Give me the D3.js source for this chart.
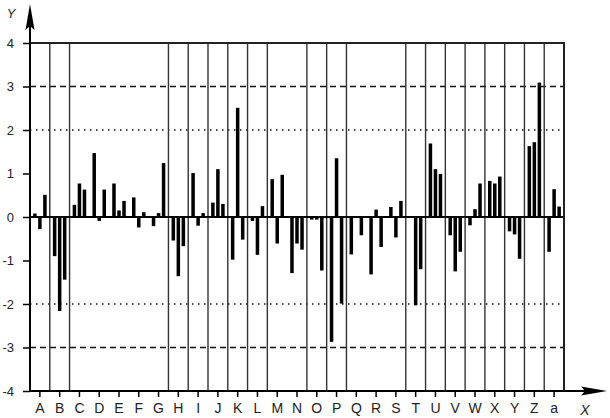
<!DOCTYPE html>
<html>
<head>
<meta charset="utf-8">
<script src="https://d3js.org/d3.v7.min.js"></script>
<style>
	body { margin: 0; background: #fff; }
	text { font-family: "Liberation Sans", Arial, sans-serif; fill: #222; }
</style>
</head>
<body>
<script>

// categories on the x axis
var categories = ["A","B","C","D","E","F","G","H","I","J","K","L","M","N",
	"O","P","Q","R","S","T","U","V","W","X","Y","Z","a"]

// three bars per category (left, middle, right)
var series1 = [0.08,-0.90,0.28,1.47,0.77,0.45,-0.21,-0.54,1.01,0.33,-0.98,-0.09,0.87,-1.29,
	-0.06,-2.87,-0.86,-1.32,0.23,0,1.69,-0.42,-0.19,0.83,-0.33,1.63,-0.80]
var series2 = [-0.28,-2.16,0.77,-0.09,0.15,-0.24,0.09,-1.36,-0.20,1.10,2.51,-0.87,-0.61,-0.61,
	-0.06,1.35,0,0.17,-0.47,-2.03,1.10,-1.25,0.18,0.77,-0.40,1.72,0.64]
var series3 = [0.51,-1.44,0.63,0.63,0.37,0.11,1.24,-0.67,0.09,0.30,-0.52,0.25,0.97,-0.75,
	-1.23,-1.99,-0.42,-0.69,0.37,-1.20,0.99,-0.80,0.77,0.93,-0.96,3.09,0.24]

// categories followed by a vertical separator line
var separators = ["A","B","G","H","I","J","K","L","N","O","P","S","T","U","V","W","X","Y","Z","a"]

var yTicks = [-4,-3,-2,-1,0,1,2,3,4]
var dashed = [-3, 3]
var dotted = [-2, 2]

var width = 610, height = 418

var svg = d3.select("body").append("svg")
	.attr("width", width)
	.attr("height", height)

var x = d3.scaleBand().domain(categories).range([30, 564]).padding(0)
var sub = d3.scaleBand().domain([0,1,2]).range([0, x.bandwidth()])
	.paddingInner(0.3).paddingOuter(0.62)
var y = d3.scaleLinear().domain([-4, 4]).range([391, 43])

var rows = []
categories.forEach(function(c, i){
	[series1, series2, series3].forEach(function(s, j){
		rows.push({cat: c, k: j, v: s[i]})
	})
})

// grid lines
svg.selectAll(".dash").data(dashed).enter().append("line")
	.attr("x1", 30).attr("x2", 564)
	.attr("y1", d => y(d)).attr("y2", d => y(d))
	.attr("stroke", "#111").attr("stroke-width", 1.5)
	.attr("stroke-dasharray", "6,4")

svg.selectAll(".dot").data(dotted).enter().append("line")
	.attr("x1", 30).attr("x2", 564)
	.attr("y1", d => y(d)).attr("y2", d => y(d))
	.attr("stroke", "#111").attr("stroke-width", 1.5)
	.attr("stroke-dasharray", "1.5,4.5")

// vertical separators
svg.selectAll(".sep").data(separators).enter().append("line")
	.attr("x1", d => x(d) + x.bandwidth()).attr("x2", d => x(d) + x.bandwidth())
	.attr("y1", y(4)).attr("y2", y(-4))
	.attr("stroke", "#333").attr("stroke-width", 1.4)

// bars
svg.selectAll(".bar").data(rows.filter(d => d.v !== 0)).enter().append("rect")
	.attr("x", d => x(d.cat) + sub(d.k))
	.attr("width", sub.bandwidth())
	.attr("y", d => y(Math.max(0, d.v)))
	.attr("height", d => Math.abs(y(d.v) - y(0)))
	.attr("fill", "#000")

// zero line and top frame
svg.append("line").attr("x1", 30).attr("x2", 564)
	.attr("y1", y(0)).attr("y2", y(0))
	.attr("stroke", "#000").attr("stroke-width", 2)
svg.append("line").attr("x1", 30).attr("x2", 565)
	.attr("y1", y(4)).attr("y2", y(4))
	.attr("stroke", "#222").attr("stroke-width", 2)

// y axis
var yAxis = d3.axisLeft(y).tickValues(yTicks).tickSize(7).tickPadding(9)
var gy = svg.append("g").attr("transform", "translate(30,0)").call(yAxis)
gy.select(".domain").remove()
gy.selectAll(".tick line").attr("stroke", "#000").attr("stroke-width", 1.5)
gy.selectAll(".tick text").attr("font-size", 13).attr("font-family", "Liberation Sans, Arial, sans-serif")
	.text(d => d)

// x axis
var xAxis = d3.axisBottom(x).tickSize(6).tickPadding(6)
var gx = svg.append("g").attr("transform", "translate(0," + y(-4) + ")").call(xAxis)
gx.select(".domain").remove()
gx.selectAll(".tick line").attr("stroke", "#000").attr("stroke-width", 1.5)
gx.selectAll(".tick text").attr("font-size", 14).attr("font-family", "Liberation Sans, Arial, sans-serif")

// axis lines with arrows
svg.append("line").attr("x1", 30).attr("x2", 30).attr("y1", 12).attr("y2", y(-4) + 1)
	.attr("stroke", "#000").attr("stroke-width", 2)
svg.append("line").attr("x1", 29).attr("x2", 598).attr("y1", y(-4)).attr("y2", y(-4))
	.attr("stroke", "#000").attr("stroke-width", 2)
svg.append("line").attr("x1", 564).attr("x2", 564).attr("y1", y(4)).attr("y2", y(-4))
	.attr("stroke", "#222").attr("stroke-width", 2)

svg.append("path").attr("d", "M30,4 L34.5,30 L30,26 L25.5,30 Z").attr("fill", "#000")
svg.append("path").attr("d", "M607," + y(-4) + " L581," + (y(-4) - 4.5) + " L585," + y(-4) +
	" L581," + (y(-4) + 4.5) + " Z").attr("fill", "#000")

svg.append("text").attr("x", 11).attr("y", 18).attr("text-anchor", "middle")
	.attr("font-size", 13).attr("font-style", "italic").text("Y")
svg.append("text").attr("x", 585).attr("y", 415).attr("text-anchor", "middle")
	.attr("font-size", 14).attr("font-style", "italic").text("X")

</script>
</body>
</html>
